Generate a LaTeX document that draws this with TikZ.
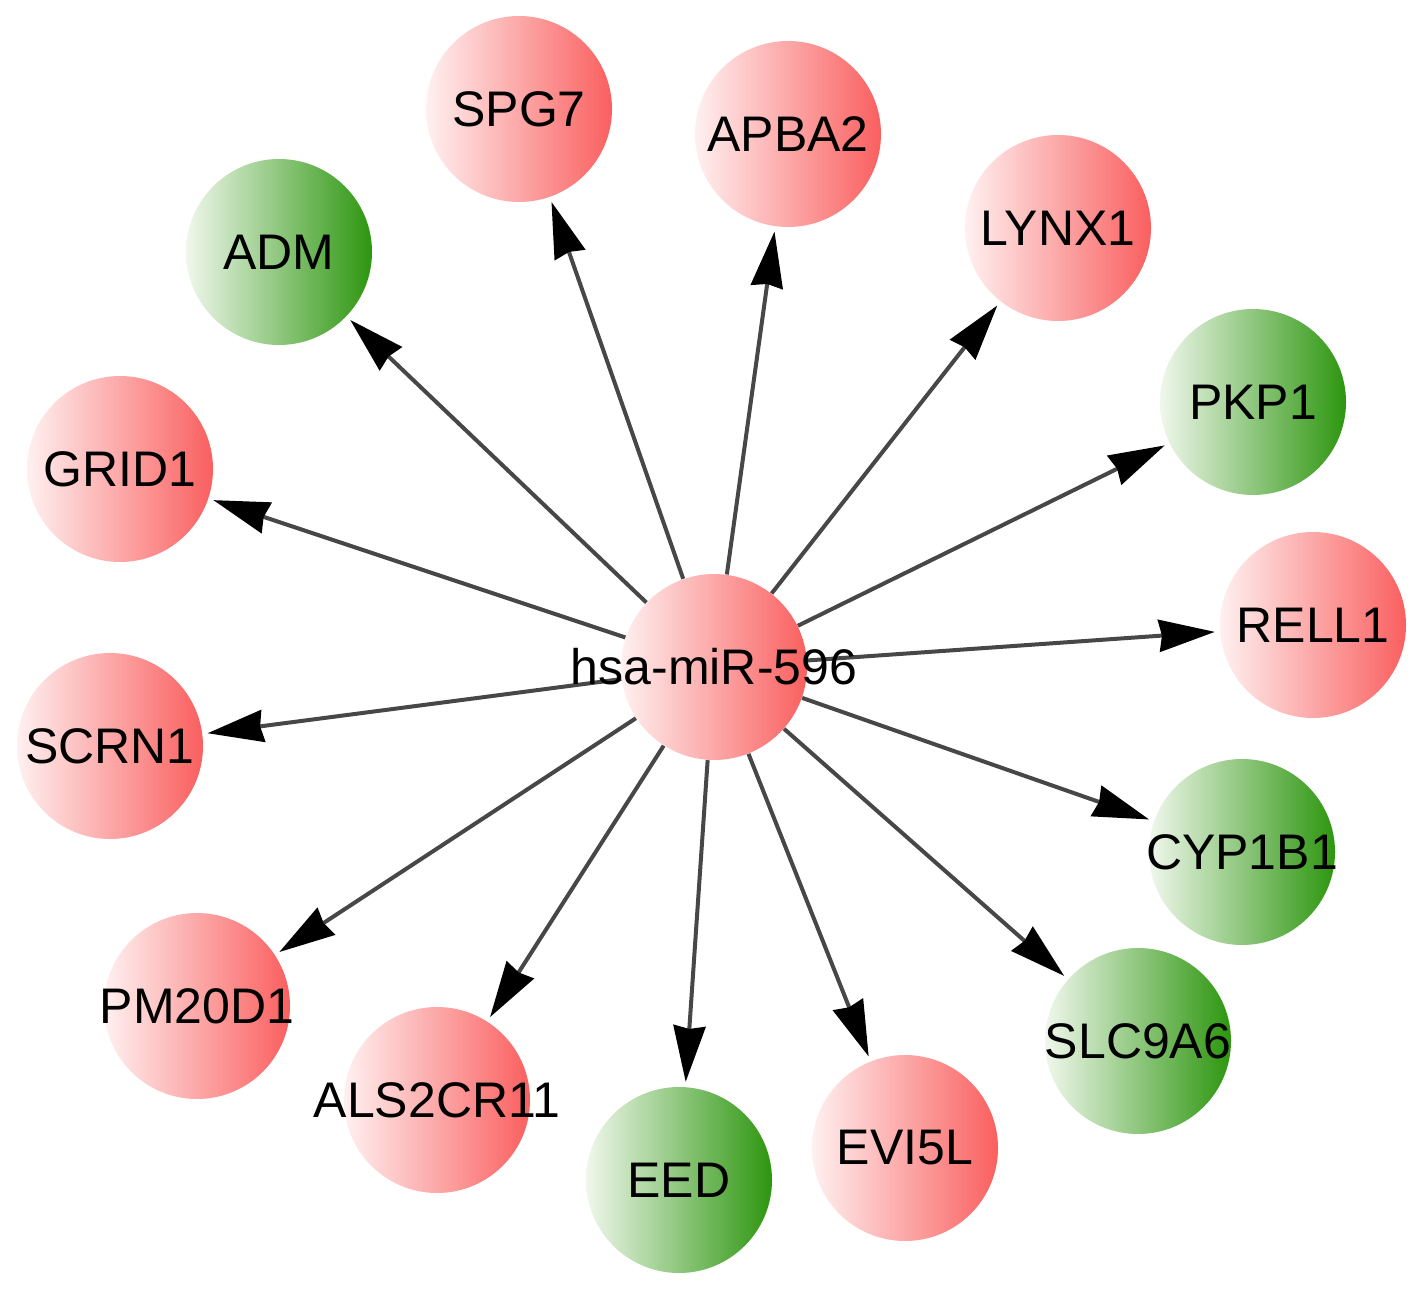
\documentclass[tikz,border=0pt]{standalone}
\usepackage{fontspec}
\setmainfont{Liberation Sans}
\usetikzlibrary{arrows.meta,backgrounds}
\definecolor{rlo}{RGB}{255,240,240}
\definecolor{rhi}{RGB}{250,95,95}
\definecolor{glo}{RGB}{240,247,236}
\definecolor{ghi}{RGB}{45,150,15}
\newcommand{\gene}[1]{\makebox[0pt]{#1}}
\begin{document}
\begin{tikzpicture}[x=0.5pt, y=-0.5pt,
  gnode/.style={circle, minimum size=93pt, inner sep=0pt, font=\fontsize{25}{29}\selectfont, text=black},
  rnode/.style={gnode, left color=rlo, right color=rhi},
  gnnode/.style={gnode, left color=glo, right color=ghi},
  link/.style={black!72, line width=2pt, -{Stealth[length=28pt, width=16pt, inset=1.5pt, color=black]}, shorten >=2.5pt}]
\useasboundingbox (0,0) rectangle (1417,1289);
\node[rnode] (mir) at (714,667) {\gene{hsa-miR-596}};
\node[rnode] (spg7) at (519,109) {\gene{SPG7}};
\node[rnode] (apba2) at (788,134) {\gene{APBA2}};
\node[rnode] (lynx1) at (1058,228) {\gene{LYNX1}};
\node[gnnode] (pkp1) at (1253,402) {\gene{PKP1}};
\node[rnode] (rell1) at (1313,625) {\gene{RELL1}};
\node[gnnode] (cyp1b1) at (1242,852) {\gene{CYP1B1}};
\node[gnnode] (slc9a6) at (1138,1041) {\gene{SLC9A6}};
\node[rnode] (evi5l) at (905,1148) {\gene{EVI5L}};
\node[gnnode] (eed) at (679,1180) {\gene{EED}};
\node[rnode] (als2cr11) at (437,1100) {\gene{ALS2CR11}};
\node[rnode] (pm20d1) at (197,1006) {\gene{PM20D1}};
\node[rnode] (scrn1) at (110,746) {\gene{SCRN1}};
\node[rnode] (grid1) at (120,469) {\gene{GRID1}};
\node[gnnode] (adm) at (279,252) {\gene{ADM}};
\begin{scope}[on background layer]
\draw[link] (mir) -- (spg7);
\draw[link] (mir) -- (apba2);
\draw[link] (mir) -- (lynx1);
\draw[link] (mir) -- (pkp1);
\draw[link] (mir) -- (rell1);
\draw[link] (mir) -- (cyp1b1);
\draw[link] (mir) -- (slc9a6);
\draw[link] (mir) -- (evi5l);
\draw[link] (mir) -- (eed);
\draw[link] (mir) -- (als2cr11);
\draw[link] (mir) -- (pm20d1);
\draw[link] (mir) -- (scrn1);
\draw[link] (mir) -- (grid1);
\draw[link] (mir) -- (adm);
\end{scope}
\end{tikzpicture}
\end{document}
